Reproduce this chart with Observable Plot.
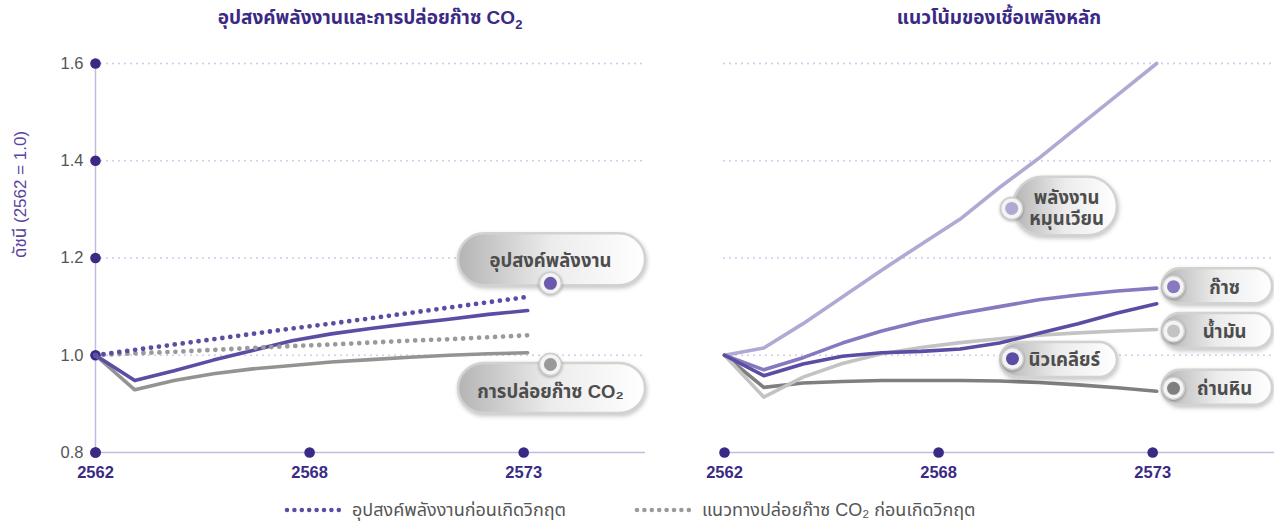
<!DOCTYPE html>
<html>
<head>
<meta charset="utf-8">
<script src="https://cdn.jsdelivr.net/npm/d3@7"></script>
<script src="https://cdn.jsdelivr.net/npm/@observablehq/plot@0.6"></script>
<style>
  body { margin: 0; background: #fff; }
  #wrap { position: relative; width: 1274px; height: 525px; overflow: hidden;
    font-family: "Liberation Sans", "Noto Sans Thai", "Noto Sans Thai UI", "Loma", "Garuda", "Waree", "Norasi", "DejaVu Sans", "Noto Sans", sans-serif; }
  .title { position: absolute; top: 4px; width: 550px; text-align: center; font-weight: bold; font-size: 19px; color: #3b2a85; }
  .title sub { font-size: 13px; }
  #charts { position: absolute; top: 40px; left: 0; display: flex; }
  #charts svg { overflow: visible; }
  g[fill^="url"] rect { filter: drop-shadow(1px 2px 2px rgba(0,0,0,0.22)); }
  .halo circle { filter: drop-shadow(0px 1px 1.5px rgba(0,0,0,0.3)); }
  #legend { position: absolute; top: 497px; left: 0; width: 1274px; height: 26px; font-size: 18px; color: #555; }
  #legend .item { position: absolute; top: 0; display: flex; align-items: center; height: 26px; }
  #legend .item span { margin-left: 10px; }
</style>
</head>
<body>
<div id="wrap">
  <div class="title" style="left:95px">อุปสงค์พลังงานและการปล่อยก๊าซ CO<sub>2</sub></div>
  <div class="title" style="left:724px">แนวโน้มของเชื้อเพลิงหลัก</div>
  <div id="charts"></div>
  <div id="legend"></div>
</div>
<script>
// ---- data ----
const years = [2562, 2563, 2564, 2565, 2566, 2567, 2568, 2569, 2570, 2571, 2572, 2573];
const energyDemand   = [1.000, 0.948, 0.968, 0.990, 1.010, 1.030, 1.044, 1.055, 1.065, 1.074, 1.084, 1.092];
const co2Emissions   = [1.000, 0.929, 0.948, 0.962, 0.972, 0.979, 0.986, 0.991, 0.996, 1.000, 1.003, 1.005];
const demandPreCrisis = [1.000, 1.011, 1.022, 1.033, 1.044, 1.055, 1.065, 1.076, 1.087, 1.098, 1.109, 1.120];
const co2PreCrisis    = [1.000, 1.004, 1.007, 1.011, 1.015, 1.019, 1.022, 1.026, 1.030, 1.033, 1.037, 1.041];

const renewables = [1.000, 1.015, 1.065, 1.120, 1.175, 1.228, 1.280, 1.345, 1.405, 1.470, 1.535, 1.600];
const gas        = [1.000, 0.970, 0.995, 1.025, 1.050, 1.070, 1.086, 1.100, 1.114, 1.124, 1.132, 1.138];
const nuclear    = [1.000, 0.958, 0.982, 0.998, 1.005, 1.008, 1.013, 1.025, 1.045, 1.065, 1.087, 1.106];
const oil        = [1.000, 0.914, 0.955, 0.983, 1.003, 1.016, 1.026, 1.034, 1.041, 1.046, 1.050, 1.053];
const coal       = [1.000, 0.934, 0.943, 0.946, 0.948, 0.948, 0.948, 0.947, 0.944, 0.939, 0.933, 0.926];

const yTicks = [0.8, 1.0, 1.2, 1.4, 1.6];
const yGrid = [1.0, 1.2, 1.4, 1.6];
const xTickAt = [2562, 2567.45, 2572.9];
const xTickLabels = ["2562", "2568", "2573"];
const yLabel = "ดัชนี (2562 = 1.0)";

const legendLabels = ["อุปสงค์พลังงานก่อนเกิดวิกฤต", "แนวทางปล่อยก๊าซ CO₂ ก่อนเกิดวิกฤต"];

// callout annotations (data coordinates: year, index)
const leftCallouts = [
  {label: "อุปสงค์พลังงาน", x1: 2571.24, x2: 2576.0, y1: 1.143, y2: 1.250, tx: 2573.58, ty: 1.195, dx: 2573.58, dy: 1.148, color: "#6a59ad"},
  {label: "การปล่อยก๊าซ CO₂", x1: 2571.24, x2: 2576.0, y1: 0.880, y2: 0.983, tx: 2573.58, ty: 0.927, dx: 2573.58, dy: 0.981, color: "#9a9a9a"}
];
const rightCalloutsTall = [
  {label: "พลังงาน\nหมุนเวียน", x1: 2569.36, x2: 2572.0, y1: 1.246, y2: 1.366, tx: 2570.71, ty: 1.304, dx: 2569.31, dy: 1.302, color: "#b2a8d3"}
];
const rightCallouts = [
  {label: "ก๊าซ", x1: 2573.15, x2: 2575.95, y1: 1.106, y2: 1.178, tx: 2574.73, ty: 1.141, dx: 2573.43, dy: 1.141, color: "#8878bf"},
  {label: "น้ำมัน", x1: 2573.15, x2: 2575.95, y1: 1.014, y2: 1.086, tx: 2574.73, ty: 1.049, dx: 2573.43, dy: 1.050, color: "#c3c3c3"},
  {label: "นิวเคลียร์", x1: 2569.03, x2: 2572.0, y1: 0.954, y2: 1.026, tx: 2570.65, ty: 0.991, dx: 2569.33, dy: 0.993, color: "#5c4ca4"},
  {label: "ถ่านหิน", x1: 2573.15, x2: 2575.95, y1: 0.897, y2: 0.969, tx: 2574.73, ty: 0.932, dx: 2573.43, dy: 0.932, color: "#7f7f7f"}
];

// ---- helpers ----
const series = (vals) => years.map((y, i) => ({year: y, value: vals[i]}));
const FONT = getComputedStyle(document.getElementById("wrap")).fontFamily;
const AXIS = "#c2bbdf", GRID = "#d0c9ec", DARK = "#3b2a85";
const LW = 3.6;

function frameMarks(showY) {
  const m = [
    Plot.ruleY(yGrid, {y: d => d, stroke: GRID, strokeWidth: 2, strokeDasharray: "0 6", strokeLinecap: "round"}),
    Plot.ruleY([0.8], {y: d => d, stroke: AXIS, strokeWidth: 1.5})
  ];
  if (showY) {
    m.push(Plot.ruleX([2562], {x: d => d, y1: 0.8, y2: 1.6, stroke: AXIS, strokeWidth: 1.5}));
    m.push(Plot.dot(yTicks, {y: d => d, frameAnchor: "left", r: 5.3, fill: DARK}));
    m.push(Plot.text(yTicks, {y: d => d, text: d => d.toFixed(1), frameAnchor: "left", dx: -12, textAnchor: "end", fill: "#555", fontSize: 16.5}));
    m.push(Plot.text([yLabel], {frameAnchor: "left", dx: -75, rotate: -90, fill: "#5a44a0", fontSize: 17}));
  }
  m.push(Plot.dot(xTickAt, {x: d => d, frameAnchor: "bottom", r: 5.3, fill: DARK}));
  m.push(Plot.text(xTickAt, {x: d => d, text: (d, i) => xTickLabels[i], frameAnchor: "bottom", dy: 25, fill: DARK, fontWeight: "bold", fontSize: 16.5}));
  return m;
}

function calloutMarks(list, rx, gradId) {
  return [
    Plot.rect(list, {x1: "x1", x2: "x2", y1: "y1", y2: "y2", rx: rx, fill: `url(#${gradId})`, stroke: "#d2d2d2", strokeWidth: 2.5}),
    Plot.text(list, {x: "tx", y: "ty", text: "label", fill: "#4d4d4d", fontWeight: "bold", fontSize: 18.5, lineHeight: 1.15}),
    Plot.dot(list, {x: "dx", y: "dy", r: 11, fill: "#f4f4f4", stroke: "#cdcdcd", strokeWidth: 1.5, className: "halo"}),
    Plot.dot(list, {x: "dx", y: "dy", r: 6.5, fill: "color"})
  ];
}

function addGradient(svg, id) {
  const defs = d3.select(svg).insert("defs", ":first-child");
  const g = defs.append("linearGradient").attr("id", id).attr("x1", "0").attr("x2", "1").attr("y1", "0").attr("y2", "0");
  g.append("stop").attr("offset", "0").attr("stop-color", "#b4b4b4");
  g.append("stop").attr("offset", "0.5").attr("stop-color", "#ececec");
  g.append("stop").attr("offset", "1").attr("stop-color", "#ffffff");
}

const common = {
  height: 452, marginTop: 23, marginBottom: 40, marginRight: 0,
  x: {domain: [2562, 2576], axis: null},
  y: {domain: [0.8, 1.6], axis: null},
  style: {fontFamily: FONT, overflow: "visible", background: "transparent"}
};

const left = Plot.plot({
  ...common, width: 645, marginLeft: 95,
  marks: [
    ...frameMarks(true),
    Plot.line(series(co2Emissions), {x: "year", y: "value", stroke: "#939393", strokeWidth: LW}),
    Plot.line(series(energyDemand), {x: "year", y: "value", stroke: "#5c4ca4", strokeWidth: LW}),
    Plot.line(series(co2PreCrisis), {x: "year", y: "value", stroke: "#9a9a9a", strokeWidth: 4.8, strokeDasharray: "0 8", strokeLinecap: "round"}),
    Plot.line(series(demandPreCrisis), {x: "year", y: "value", stroke: "#5c4ca4", strokeWidth: 4.8, strokeDasharray: "0 8", strokeLinecap: "round"}),
    ...calloutMarks(leftCallouts, 26, "gradL")
  ]
});
addGradient(left, "gradL");

const right = Plot.plot({
  ...common, width: 629, marginLeft: 79,
  marks: [
    ...frameMarks(false),
    Plot.line(series(coal), {x: "year", y: "value", stroke: "#7f7f7f", strokeWidth: LW}),
    Plot.line(series(oil), {x: "year", y: "value", stroke: "#c3c3c3", strokeWidth: LW}),
    Plot.line(series(renewables), {x: "year", y: "value", stroke: "#b2a8d3", strokeWidth: LW}),
    Plot.line(series(gas), {x: "year", y: "value", stroke: "#8878bf", strokeWidth: LW}),
    Plot.line(series(nuclear), {x: "year", y: "value", stroke: "#5c4ca4", strokeWidth: LW}),
    ...calloutMarks(rightCalloutsTall, 29, "gradR"),
    ...calloutMarks(rightCallouts, 18, "gradR")
  ]
});
addGradient(right, "gradR");

document.getElementById("charts").append(left, right);

// legend
const legend = document.getElementById("legend");
const legendItems = [
  {label: legendLabels[0], color: "#5c4ca4", left: 284},
  {label: legendLabels[1], color: "#9a9a9a", left: 634}
];
for (const it of legendItems) {
  const div = document.createElement("div");
  div.className = "item";
  div.style.left = it.left + "px";
  div.innerHTML = `<svg width="58" height="10"><line x1="3" x2="55" y1="5" y2="5" stroke="${it.color}" stroke-width="4.5" stroke-dasharray="0 7.4" stroke-linecap="round"/></svg><span>${it.label}</span>`;
  legend.append(div);
}
</script>
</body>
</html>
